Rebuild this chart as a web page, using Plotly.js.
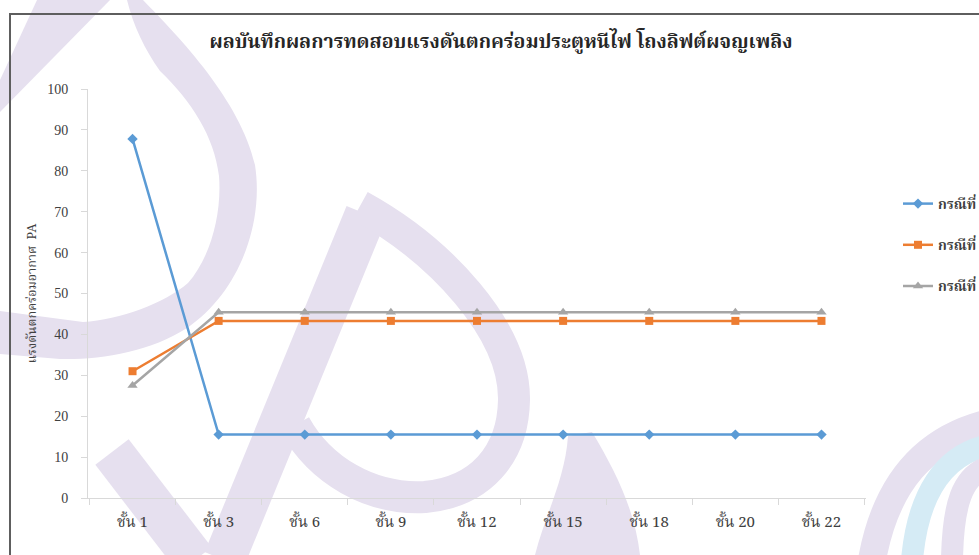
<!DOCTYPE html>
<html>
<head>
<meta charset="utf-8">
<script src="https://cdn.plot.ly/plotly-3.0.1.min.js"></script>
<style>
  html, body { margin: 0; padding: 0; background: #ffffff; overflow: hidden; }
  #chart { width: 979px; height: 555px; }
</style>
</head>
<body>
<div id="chart"></div>
<script>
// Floors where the door pressure was measured
const floors = ['ชั้น 1', 'ชั้น 3', 'ชั้น 6', 'ชั้น 9', 'ชั้น 12', 'ชั้น 15', 'ชั้น 18', 'ชั้น 20', 'ชั้น 22'];

// Pressure difference across the door (PA) for each test case
const case1 = [87.8, 15.5, 15.5, 15.5, 15.5, 15.5, 15.5, 15.5, 15.5];
const case2 = [31.0, 43.3, 43.3, 43.3, 43.3, 43.3, 43.3, 43.3, 43.3];
const case3 = [27.5, 45.4, 45.4, 45.4, 45.4, 45.4, 45.4, 45.4, 45.4];

const seriesNames = ['กรณีที่ 1', 'กรณีที่ 2', 'กรณีที่ 3'];
const yTicks = [0, 10, 20, 30, 40, 50, 60, 70, 80, 90, 100];

const chartTitle = 'ผลบันทึกผลการทดสอบแรงดันตกคร่อมประตูหนีไฟ โถงลิฟต์ผจญเพลิง';
const yTitle = 'แรงดันตกคร่อมอากาศ  PA';

// Page geometry
const W = 979, H = 555;
const M = { l: 88, r: 113, t: 89, b: 57, autoexpand: false };
const PW = W - M.l - M.r, PH = H - M.t - M.b;

const thaiSerif = '"Noto Serif Thai", "Liberation Serif", "Noto Sans Thai", "Tlwg Typo", serif';

// Convert a path written in page pixels into paper units for layout shapes
function toPaper(path) {
  return path.replace(/(-?\d+(?:\.\d+)?)\s*,\s*(-?\d+(?:\.\d+)?)/g, function (m, xs, ys) {
    const x = (parseFloat(xs) - M.l) / PW;
    const y = 1 - (parseFloat(ys) - M.t) / PH;
    return x.toFixed(5) + ',' + y.toFixed(5);
  });
}
const px = function (x) { return (x - M.l) / PW; };
const py = function (y) { return 1 - (y - M.t) / PH; };

const lav = '#e6e0ef';
const sky = '#d5ebf5';

function fillShape(p, color) {
  return { type: 'path', xref: 'paper', yref: 'paper', layer: 'below',
           path: toPaper(p), fillcolor: color, line: { width: 0 } };
}
function strokeShape(p, color, w) {
  return { type: 'path', xref: 'paper', yref: 'paper', layer: 'below',
           path: toPaper(p), fillcolor: 'rgba(0,0,0,0)', line: { color: color, width: w } };
}
function frameLine(x0, y0, x1, y1) {
  return { type: 'line', xref: 'paper', yref: 'paper', layer: 'below',
           x0: px(x0), y0: py(y0), x1: px(x1), y1: py(y1),
           line: { color: '#5e5e5e', width: 2 } };
}

// Background emblem strokes and the outer chart frame
const decor = [
  fillShape('M 37,0 L 110,0 L 0,112 L 0,80 Z', lav),
  fillShape('M 127,0 L 143,0 C 180,38 240,100 255,165 C 264,222 240,292 187,328 C 150,352 100,360 60,359 L 0,354 L 0,311 L 83,322 C 120,320 165,303 188,283 C 210,258 222,215 219,176 C 214,136 192,102 160,71 C 145,50 133,25 127,0 Z', lav),
  strokeShape('M 112,452 L 195,560', lav, 42),
  strokeShape('M 366,214 L 224,560', lav, 42),
  strokeShape('M 360,206 C 440,250 515,330 514,400 C 513,455 480,492 425,497 C 370,500 320,470 295,425', lav, 32),
  fillShape('M 568,436 L 592,432 C 615,470 635,510 640,555 L 535,555 C 545,515 565,480 568,436 Z', lav),
  strokeShape('M 872,560 C 886,482 925,440 985,424', lav, 28),
  strokeShape('M 912,560 C 918,492 945,456 985,446', sky, 22),
  strokeShape('M 952,560 C 953,502 963,478 985,468', lav, 22),
  frameLine(10, 14, 10, 560),
  frameLine(9, 14, 985, 14)
];

const traceStyles = [
  { color: '#5b9bd5', symbol: 'diamond', size: 8 },
  { color: '#ed7d31', symbol: 'square', size: 8 },
  { color: '#a5a5a5', symbol: 'triangle-up', size: 9 }
];
const values = [case1, case2, case3];

const traces = values.map(function (v, i) {
  return {
    type: 'scatter',
    mode: 'lines+markers',
    x: floors,
    y: v,
    name: seriesNames[i],
    legendgroup: 'g' + i,
    line: { color: traceStyles[i].color, width: 2.5 },
    marker: { color: traceStyles[i].color, symbol: traceStyles[i].symbol, size: traceStyles[i].size }
  };
});

const layout = {
  width: W,
  height: H,
  margin: M,
  paper_bgcolor: '#ffffff',
  plot_bgcolor: 'rgba(0,0,0,0)',
  showlegend: true,
  title: {
    text: chartTitle,
    xref: 'paper', x: (501 - M.l) / PW, xanchor: 'center',
    yref: 'container', y: 1 - 41 / H, yanchor: 'middle',
    font: { family: thaiSerif, size: 19.5, color: '#262626', weight: 'bold' }
  },
  xaxis: {
    type: 'category',
    tickson: 'boundaries',
    ticks: 'outside', ticklen: 6, tickcolor: '#d9d9d9',
    showline: true, linecolor: '#d9d9d9', linewidth: 1,
    showgrid: false, zeroline: false,
    ticklabelstandoff: 10,
    tickfont: { family: thaiSerif, size: 15, color: '#404040' }
  },
  yaxis: {
    range: [0, 100],
    tickvals: yTicks,
    ticks: 'outside', ticklen: 6, tickcolor: '#d9d9d9',
    showline: true, linecolor: '#d9d9d9', linewidth: 1,
    showgrid: false, zeroline: false,
    ticklabelstandoff: 10,
    tickfont: { family: '"Liberation Serif", serif', size: 14, color: '#404040' },
    title: {
      text: yTitle,
      standoff: 7,
      font: { family: thaiSerif, size: 12.5, color: '#404040' }
    }
  },
  legend: {
    x: (898 - M.l) / PW, xanchor: 'left',
    y: 1 - (188 - M.t) / PH, yanchor: 'top',
    bgcolor: 'rgba(0,0,0,0)',
    tracegroupgap: 20,
    font: { family: thaiSerif, size: 14, color: '#404040', weight: 'bold' }
  },
  shapes: decor
};

Plotly.newPlot('chart', traces, layout, { displayModeBar: false, staticPlot: true });
</script>
</body>
</html>
